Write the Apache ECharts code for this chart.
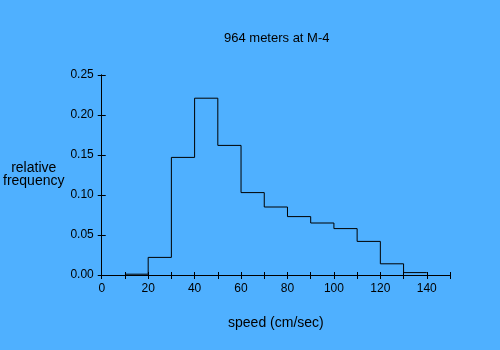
<!DOCTYPE html>
<html>
<head>
<meta charset="utf-8">
<script src="https://cdn.jsdelivr.net/npm/echarts@6/dist/echarts.min.js"></script>
<style>
  html, body { margin: 0; padding: 0; background: #4fb0ff; }
  #chart { width: 500px; height: 350px; }
</style>
</head>
<body>
<div id="chart"></div>
<script>
// Speed histogram: left edge of each 10 cm/sec bin and its relative frequency
const binStarts = [10, 20, 30, 40, 50, 60, 70, 80, 90, 100, 110, 120, 130];
const binWidth = 10;
const frequencies = [0.001, 0.022, 0.147, 0.221, 0.162, 0.103, 0.085, 0.073, 0.065, 0.058, 0.042, 0.014, 0.003];

const titleText = '964 meters at M-4';
const xName = 'speed (cm/sec)';
const yName = 'relative\nfrequency';

// Step outline: each bin's value carried to the next edge, closed at the last bin's right edge
const outline = binStarts.map((x, i) => [x, frequencies[i]]);
outline.push([binStarts[binStarts.length - 1] + binWidth, frequencies[frequencies.length - 1]]);

const font = 'Liberation Sans, Arial, sans-serif';
const ink = '#000';

const baseX = {
  type: 'value', min: 0, max: 150, interval: 10, position: 'bottom',
  axisLine: { onZero: false, lineStyle: { color: ink, width: 1 } },
  splitLine: { show: false }
};
const baseY = {
  type: 'value', min: 0, max: 0.25, interval: 0.05, position: 'left',
  axisLine: { show: true, onZero: false, lineStyle: { color: ink, width: 1 } },
  splitLine: { show: false }
};

const chart = echarts.init(document.getElementById('chart'), null, { renderer: 'canvas' });
chart.setOption({
  backgroundColor: '#4fb0ff',
  animation: false,
  title: {
    text: titleText, left: 219, top: 27,
    textStyle: { color: ink, fontSize: 13, fontWeight: 'normal', fontFamily: font }
  },
  grid: { left: 100, right: 50, top: 75, bottom: 75 },
  xAxis: [
    Object.assign({}, baseX, {
      name: xName, nameLocation: 'middle', nameGap: 41,
      nameTextStyle: { color: ink, fontSize: 14, fontFamily: font },
      axisTick: { show: true, length: 4, lineStyle: { color: ink } },
      axisLabel: {
        color: ink, fontSize: 12, fontFamily: font, margin: 8,
        formatter: v => (v % 20 === 0 ? String(v) : '')
      }
    }),
    Object.assign({}, baseX, {
      axisTick: { show: true, inside: true, length: 3, lineStyle: { color: ink } },
      axisLabel: { show: false }
    })
  ],
  yAxis: [
    Object.assign({}, baseY, {
      name: yName, nameLocation: 'middle', nameGap: 66, nameRotate: 0,
      nameTextStyle: { color: ink, fontSize: 14, fontFamily: font, align: 'center', lineHeight: 13 },
      axisTick: { show: true, length: 4, lineStyle: { color: ink } },
      axisLabel: { color: ink, fontSize: 12, fontFamily: font, margin: 8, formatter: v => v.toFixed(2) }
    }),
    Object.assign({}, baseY, {
      axisTick: { show: true, inside: true, length: 4, lineStyle: { color: ink } },
      axisLabel: { show: false }
    })
  ],
  series: [{
    type: 'line',
    step: 'end',
    data: outline,
    showSymbol: false,
    lineStyle: { color: ink, width: 1 },
    xAxisIndex: 0,
    yAxisIndex: 0
  }]
});
</script>
</body>
</html>
